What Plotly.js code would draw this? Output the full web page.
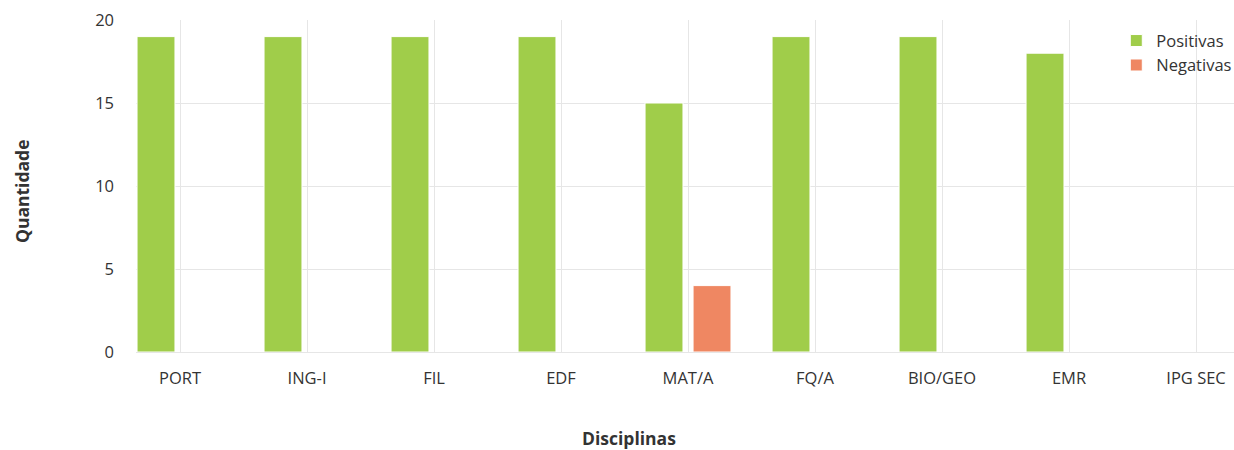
<!DOCTYPE html>
<html>
<head>
<meta charset="utf-8">
<script src="https://cdn.plot.ly/plotly-3.0.1.min.js"></script>
<style>html,body{margin:0;padding:0;background:#fff;}#chart{width:1234px;height:450px;}</style>
</head>
<body>
<div id="chart"></div>
<script>
const categories = ["PORT", "ING-I", "FIL", "EDF", "MAT/A", "FQ/A", "BIO/GEO", "EMR", "IPG SEC"];
const positivas = [19, 19, 19, 19, 15, 19, 19, 18, 0];
const negativas = [0, 0, 0, 0, 4, 0, 0, 0, 0];
const yTicks = [0, 5, 10, 15, 20];

const font = "'Open Sans', sans-serif";
const traces = [
  {type: 'bar', name: 'Positivas', x: categories, y: positivas,
   marker: {color: '#a0cd4a', line: {color: '#ffffff', width: 1}}, hoverinfo: 'x+y'},
  {type: 'bar', name: 'Negativas', x: categories, y: negativas,
   marker: {color: '#ef8762', line: {color: '#ffffff', width: 1}}, hoverinfo: 'x+y'}
];
const layout = {
  width: 1234, height: 450,
  margin: {l: 136, r: 0, t: 20, b: 98, autoexpand: false},
  paper_bgcolor: '#fff', plot_bgcolor: '#fff',
  font: {family: font, size: 16.5, color: '#333'},
  barmode: 'group', bargap: 0.244, bargroupgap: 0.21,
  xaxis: {type: 'category', range: [-0.3465, 8.299], showgrid: true, gridcolor: '#e6e6e6',
          gridwidth: 1, showline: true, linecolor: '#e6e6e6', zeroline: false, ticks: '',
          automargin: false,
          ticklabelstandoff: 11, tickfont: {family: font, size: 16.5, color: '#333'}},
  yaxis: {range: [0, 20], tickvals: yTicks, showgrid: true, gridcolor: '#e6e6e6',
          zeroline: false, showline: false, ticks: '', ticklabelstandoff: 21, automargin: false,
          tickfont: {family: font, size: 16.5, color: '#333'}},
  legend: {x: 1.003, xanchor: 'right', y: 0.99, yanchor: 'top', bgcolor: 'rgba(0,0,0,0)',
           font: {family: font, size: 16.5, color: '#333'}, tracegroupgap: 0},
  showlegend: true,
  annotations: [
    {text: '<b>Quantidade</b>', xref: 'paper', yref: 'paper', x: (22 - 136) / 1098, y: (352 - 191) / 332,
     xanchor: 'center', yanchor: 'middle',
     showarrow: false, textangle: -90, font: {family: font, size: 17.5, color: '#333'}},
    {text: '<b>Disciplinas</b>', xref: 'paper', yref: 'paper', x: (629 - 136) / 1098, y: (352 - 438) / 332,
     xanchor: 'center', yanchor: 'middle',
     showarrow: false, font: {family: font, size: 17.5, color: '#333'}}
  ]
};
Plotly.newPlot('chart', traces, layout, {displayModeBar: false, staticPlot: true});
</script>
</body>
</html>
